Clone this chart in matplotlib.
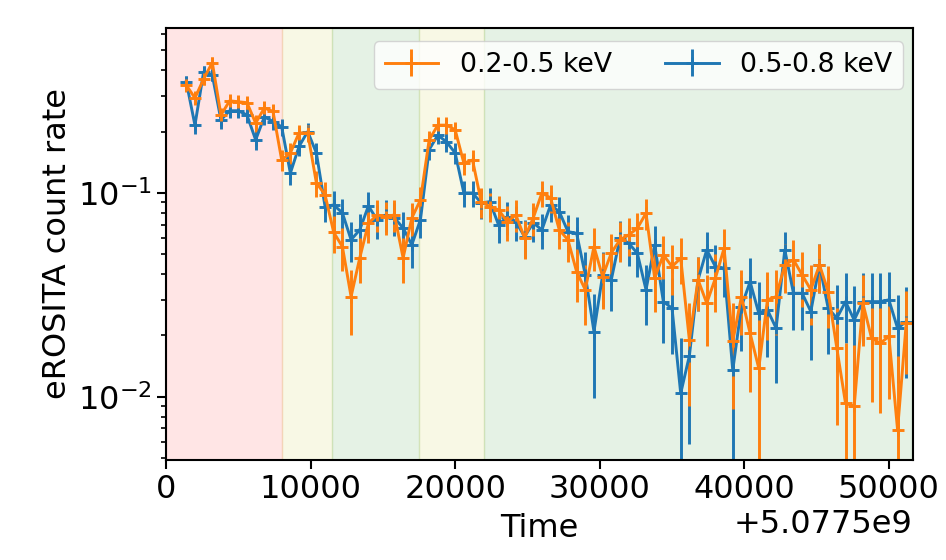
import matplotlib
matplotlib.use('Agg')
from matplotlib import pyplot as plt
import numpy as np

# light curve, 600 s bins, time relative to 5.0775e9
t0 = 5.0775e9
time_rel = [1400, 2000, 2600, 3200, 3800, 4400, 5000, 5600, 6200, 6800,
            7400, 8000, 8600, 9200, 9800, 10400, 11000, 11600, 12200, 12800,
            13400, 14000, 14600, 15200, 15800, 16400, 17000, 17600, 18200, 18800,
            19400, 20000, 20600, 21200, 21800, 22400, 23000, 23600, 24200, 24800,
            25400, 26000, 26600, 27200, 27800, 28400, 29000, 29600, 30200, 30800,
            31400, 32000, 32600, 33200, 33800, 34400, 35000, 35600, 36200, 36800,
            37400, 38000, 38600, 39200, 39800, 40400, 41000, 41600, 42200, 42800,
            43400, 44000, 44600, 45200, 45800, 46400, 47000, 47600, 48200, 48800,
            49400, 50000, 50600, 51200]

# 0.2-0.5 keV
soft_rate = [0.338, 0.292, 0.362, 0.436, 0.241, 0.283, 0.280, 0.277, 0.220, 0.261,
             0.251, 0.145, 0.157, 0.197, 0.197, 0.112, 0.098, 0.064, 0.0545, 0.031,
             0.048, 0.071, 0.078, 0.0765, 0.078, 0.048, 0.0754, 0.0924, 0.182, 0.215,
             0.215, 0.204, 0.140, 0.145, 0.0906, 0.0857, 0.0826, 0.0723, 0.078, 0.0602,
             0.0754, 0.100, 0.0945, 0.0659, 0.0589, 0.0411, 0.0335, 0.0545, 0.0389, 0.0508,
             0.0589, 0.0622, 0.0671, 0.0795, 0.0382, 0.0497, 0.0435, 0.0479, 0.0190, 0.0375,
             0.0288, 0.0382, 0.0536, 0.0187, 0.0310, 0.0205, 0.0138, 0.0299, 0.0310, 0.0444,
             0.0470, 0.0396, 0.0335, 0.0444, 0.0328, 0.0173, 0.0093, 0.0090, 0.0288, 0.0194,
             0.0183, 0.0198, 0.0069, 0.0230]
soft_err = [0.024, 0.023, 0.025, 0.027, 0.021, 0.023, 0.022, 0.022, 0.020, 0.022,
            0.021, 0.017, 0.018, 0.019, 0.019, 0.016, 0.015, 0.013, 0.013, 0.011,
            0.012, 0.014, 0.014, 0.014, 0.014, 0.012, 0.014, 0.015, 0.019, 0.020,
            0.020, 0.020, 0.017, 0.017, 0.015, 0.014, 0.014, 0.014, 0.014, 0.013,
            0.014, 0.015, 0.015, 0.013, 0.013, 0.012, 0.011, 0.013, 0.012, 0.012,
            0.013, 0.013, 0.013, 0.014, 0.012, 0.012, 0.012, 0.012, 0.010, 0.011,
            0.011, 0.012, 0.013, 0.010, 0.011, 0.010, 0.010, 0.011, 0.011, 0.012,
            0.012, 0.012, 0.011, 0.012, 0.011, 0.010, 0.009, 0.009, 0.011, 0.010,
            0.010, 0.010, 0.009, 0.010]

# 0.5-0.8 keV
hard_rate = [0.351, 0.215, 0.392, 0.379, 0.228, 0.253, 0.253, 0.241, 0.182, 0.236,
             0.224, 0.211, 0.125, 0.169, 0.200, 0.157, 0.0857, 0.0873, 0.0798, 0.0589,
             0.0659, 0.0864, 0.0737, 0.078, 0.0754, 0.0673, 0.0556, 0.074, 0.163, 0.192,
             0.178, 0.157, 0.100, 0.100, 0.0893, 0.0906, 0.0697, 0.0765, 0.0723, 0.061,
             0.0713, 0.0659, 0.0873, 0.081, 0.0646, 0.0634, 0.0396, 0.0209, 0.0396, 0.0375,
             0.060, 0.0567, 0.0506, 0.0335, 0.0556, 0.0293, 0.0272, 0.0104, 0.0159, 0.0375,
             0.0526, 0.0435, 0.0428, 0.0135, 0.0277, 0.0367, 0.0257, 0.0267, 0.0217, 0.0526,
             0.0322, 0.0322, 0.0262, 0.0444, 0.0272, 0.0243, 0.0293, 0.0238, 0.0293, 0.0293,
             0.0293, 0.0299, 0.0217, 0.0234]
hard_err = [0.025, 0.020, 0.026, 0.026, 0.021, 0.021, 0.021, 0.021, 0.019, 0.021,
            0.020, 0.020, 0.016, 0.018, 0.020, 0.018, 0.014, 0.015, 0.014, 0.013,
            0.013, 0.015, 0.014, 0.014, 0.014, 0.013, 0.013, 0.014, 0.018, 0.019,
            0.019, 0.018, 0.015, 0.015, 0.015, 0.015, 0.013, 0.014, 0.014, 0.013,
            0.014, 0.013, 0.015, 0.014, 0.013, 0.013, 0.012, 0.011, 0.012, 0.011,
            0.013, 0.013, 0.012, 0.011, 0.013, 0.011, 0.011, 0.009, 0.010, 0.011,
            0.012, 0.012, 0.012, 0.010, 0.011, 0.011, 0.011, 0.011, 0.010, 0.012,
            0.011, 0.011, 0.011, 0.012, 0.011, 0.011, 0.011, 0.011, 0.011, 0.011,
            0.011, 0.011, 0.010, 0.011]

# phases shaded in the background
span_edges = [(0, 8000), (8000, 11500), (11500, 17500), (17500, 22000), (22000, 51500)]
span_colors = ['red', 'y', 'green', 'y', 'green']

t = t0 + np.array(time_rel)

fig = plt.figure(figsize=(9.46, 5.6), dpi=100)
ax = fig.add_axes([0.1755, 0.1786, 0.7895, 0.7714])

for (a, b), c in zip(span_edges, span_colors):
    ax.axvspan(t0 + a, t0 + b, color=c, alpha=0.1)

hb = ax.errorbar(t, hard_rate, yerr=hard_err, fmt='+-', color='C0', lw=2.1,
                 elinewidth=2.1, ms=9, mew=2.1, label='0.5-0.8 keV')
hs = ax.errorbar(t, soft_rate, yerr=soft_err, fmt='+-', color='C1', lw=2.1,
                 elinewidth=2.1, ms=9, mew=2.1, label='0.2-0.5 keV')

ax.set_yscale('log')
ax.set_ylim(0.0049, 0.644)
ax.set_xlim(t0, t0 + 51660)

ax.set_xlabel('Time', fontsize=23, labelpad=6)
ax.set_ylabel('eROSITA count rate', fontsize=23)
ax.tick_params(which='major', labelsize=23, length=6.5, width=1.5)
ax.tick_params(which='minor', length=3.8, width=1.2)
ax.xaxis.get_offset_text().set_fontsize(23)
for s in ax.spines.values():
    s.set_linewidth(1.5)

ax.legend([hs, hb], ['0.2-0.5 keV', '0.5-0.8 keV'], ncol=2, loc='upper right',
          fontsize=19.3, framealpha=0.8, bbox_to_anchor=(1.005, 1.0))

fig.savefig('out.png', dpi=100)
